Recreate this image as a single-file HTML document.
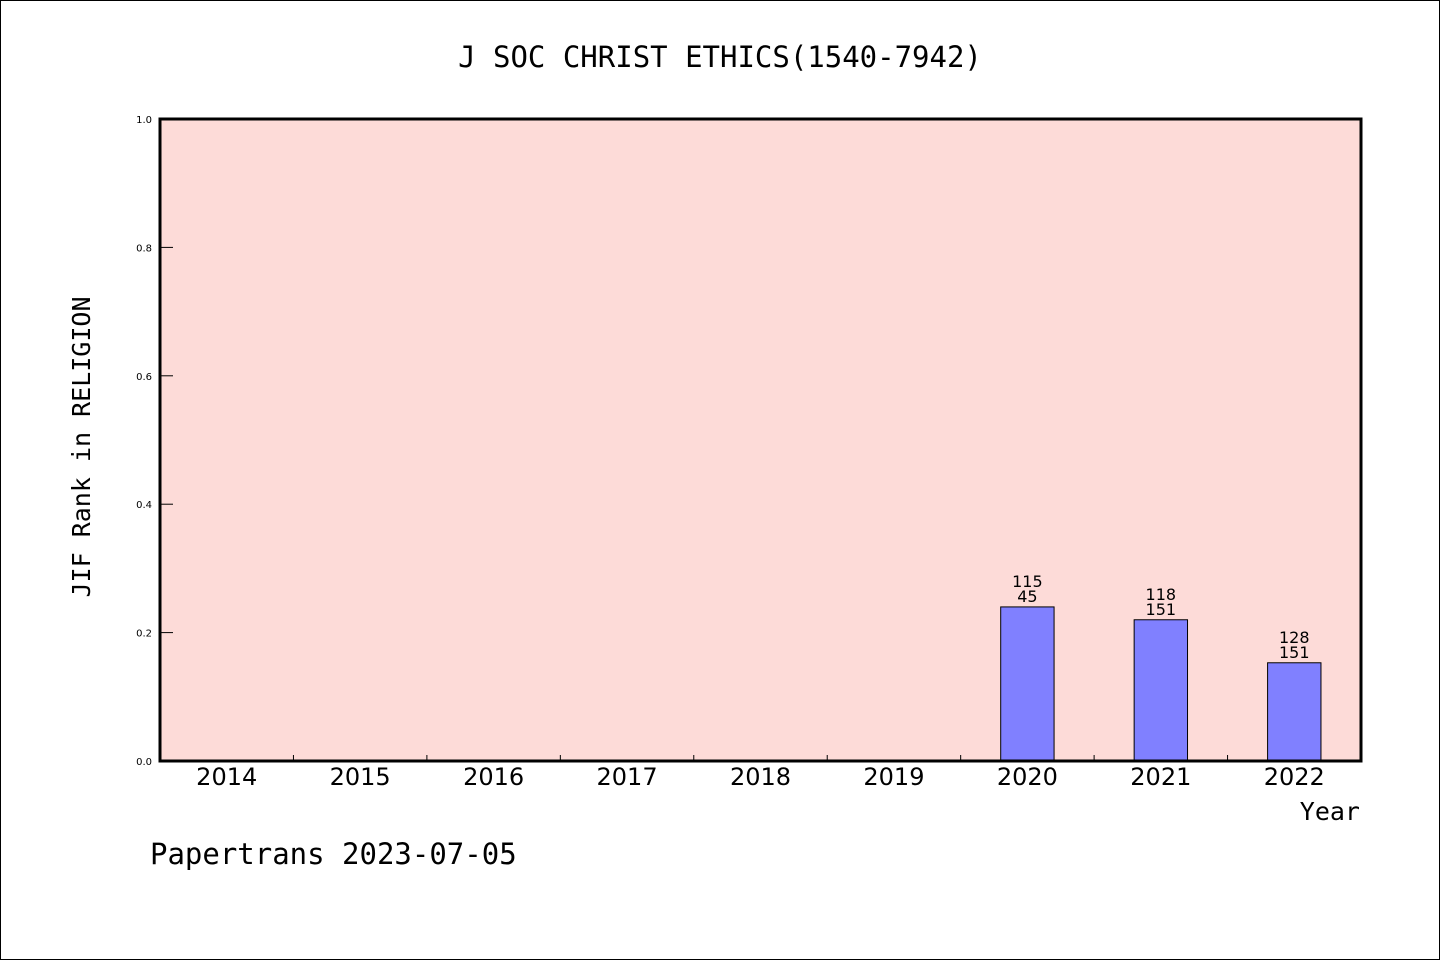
<!DOCTYPE html>
<html><head><meta charset="utf-8"><style>
body{margin:0;background:#fff}
svg{display:block}
.mono{font-family:"DejaVu Sans Mono","Liberation Mono",monospace}
.sans{font-family:"DejaVu Sans","Liberation Sans",sans-serif}
</style></head><body>
<svg id="chart" width="1440" height="960" xmlns="http://www.w3.org/2000/svg">
<rect x="0.5" y="0.5" width="1439" height="959" fill="#fff" stroke="#000"/>
<text x="720" y="67" text-anchor="middle" font-size="29" class="mono">J SOC CHRIST ETHICS(1540-7942)</text>
<rect x="160" y="119" width="1201" height="642" fill="#fddbd8"/>
<g id="marks"></g>
<rect x="160" y="119" width="1201" height="642" fill="none" stroke="#000" stroke-width="3"/>
<text transform="translate(90,447) rotate(-90)" text-anchor="middle" font-size="25" class="mono">JIF Rank in RELIGION</text>
<text x="1360" y="820" text-anchor="end" font-size="25" class="mono">Year</text>
<text x="150" y="864" font-size="29" class="mono">Papertrans 2023-07-05</text>
</svg>
<script>
const categories=["2014","2015","2016","2017","2018","2019","2020","2021","2022"];
const values=[null,null,null,null,null,null,0.24,0.22,0.153];
const labelTop=[null,null,null,null,null,null,"115","118","128"];
const labelBottom=[null,null,null,null,null,null,"45","151","151"];
const yTicks=[0,0.2,0.4,0.6,0.8,1.0];
const yTickLabels=["0.0","0.2","0.4","0.6","0.8","1.0"];
const L=160,R=1361,T=119,B=761;
const step=(R-L)/categories.length;
const xC=i=>L+step*(i+0.5);
const y=v=>B-(v)*(B-T);
const NS="http://www.w3.org/2000/svg";
const g=document.getElementById('marks');
function mk(t,a){const e=document.createElementNS(NS,t);for(const k in a)e.setAttribute(k,a[k]);g.appendChild(e);return e;}
yTicks.forEach((v,i)=>{
  const l=mk('line',{x1:L,x2:L+13,y1:y(v),y2:y(v),stroke:'#000','stroke-width':1});
  
  
  const t=mk('text',{x:L-8,y:y(v)+4,'text-anchor':'end','font-size':10,class:'sans'});
  t.textContent=yTickLabels[i];
  
  
});
categories.forEach((c,i)=>{
  if(i>0){const l=mk('line',{x1:L+step*i,x2:L+step*i,y1:B,y2:B-6,stroke:'#000','stroke-width':1});
  
  }
  const t=mk('text',{x:xC(i),y:B+24,'text-anchor':'middle','font-size':24,class:'sans'});
  t.textContent=c;
  
  
  if(values[i]!=null){
    const w=step*0.4;
    const r=mk('rect',{x:xC(i)-w/2,y:y(values[i]),width:w,height:B-y(values[i]),fill:'#8080ff',stroke:'#000','stroke-width':1});
    
    
    const a=mk('text',{x:xC(i),y:y(values[i])-5,'text-anchor':'middle','font-size':16,class:'sans'});
    a.textContent=labelBottom[i];
    
    
    const b=mk('text',{x:xC(i),y:y(values[i])-20,'text-anchor':'middle','font-size':16,class:'sans'});
    b.textContent=labelTop[i];
    
    
  }
});
</script>
</body></html>
